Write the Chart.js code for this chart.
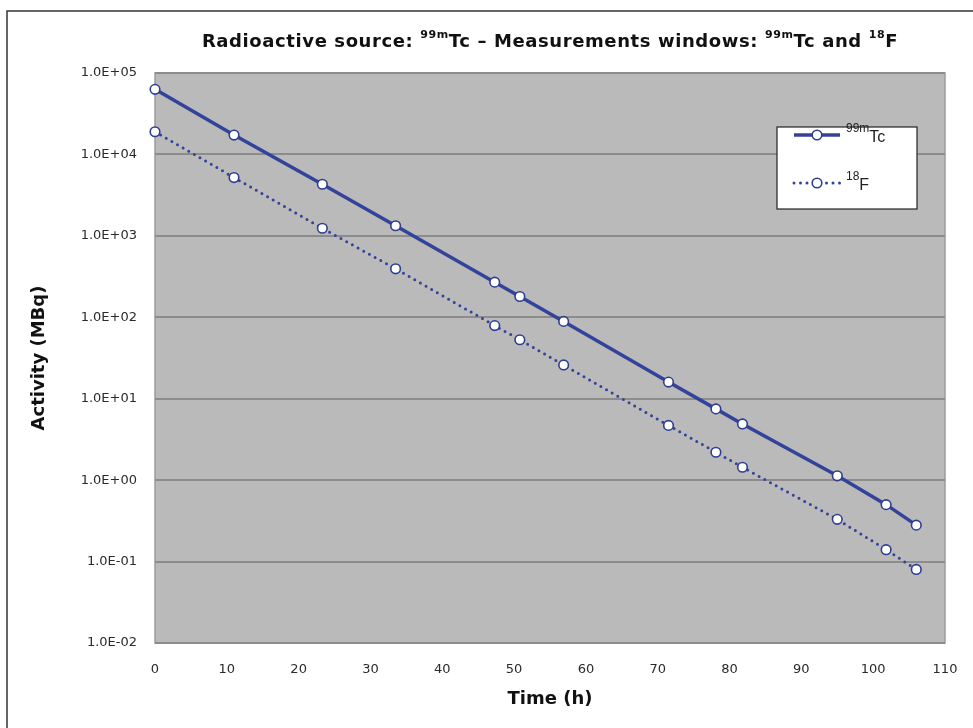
<!DOCTYPE html>
<html>
<head>
<meta charset="utf-8">
<script src="https://cdn.jsdelivr.net/npm/chart.js@4/dist/chart.umd.min.js"></script>
<style>
  html, body { margin: 0; padding: 0; background: #fff; }
  #wrap { width: 973px; height: 728px; }
</style>
</head>
<body>
<div id="wrap"><canvas id="myChart1" width="973" height="728"></canvas></div>
<script>
// measurement times (h), same for both windows
const times = [0, 11, 23.3, 33.5, 47.3, 50.8, 56.9, 71.5, 78.1, 81.8, 95, 101.8, 106];
// activity (MBq) read in the 99mTc window
const tcValues = [63000, 17300, 4300, 1330, 270, 180, 89, 16, 7.5, 4.9, 1.13, 0.5, 0.28];
// activity (MBq) read in the 18F window
const fValues = [19000, 5200, 1240, 394, 79, 53, 26, 4.7, 2.2, 1.44, 0.33, 0.14, 0.08];

const yTicks = [1e-2, 1e-1, 1e0, 1e1, 1e2, 1e3, 1e4, 1e5];
const yTickLabels = ["1.0E-02", "1.0E-01", "1.0E+00", "1.0E+01", "1.0E+02", "1.0E+03", "1.0E+04", "1.0E+05"];
const xTicks = [0, 10, 20, 30, 40, 50, 60, 70, 80, 90, 100, 110];

const blue = "#33439a";
const tickFont = { family: "'DejaVu Sans', sans-serif", size: 13 };
const titleFont = { family: "'DejaVu Sans', sans-serif", size: 18, weight: "bold" };

// title with superscripts: [text, isSup]
const titleParts = [
    ["Radioactive source: ", false], ["99m", true], ["Tc \u2013 Measurements windows: ", false],
    ["99m", true], ["Tc and ", false], ["18", true], ["F", false],
];

function drawParts(ctx, parts, x, y, font, supFont, rise) {
    let cx = x;
    parts.forEach(([t, sup]) => {
        ctx.font = sup ? supFont : font;
        ctx.fillText(t, cx, sup ? y - rise : y);
        cx += ctx.measureText(t).width;
    });
}
function partsWidth(ctx, parts, font, supFont) {
    let w = 0;
    parts.forEach(([t, sup]) => {
        ctx.font = sup ? supFont : font;
        w += ctx.measureText(t).width;
    });
    return w;
}

const decor = {
    id: "decor",
    beforeDraw(chart) {
        const { ctx, chartArea: a } = chart;
        ctx.save();
        ctx.fillStyle = "#fff";
        ctx.fillRect(0, 0, chart.width, chart.height);
        // outer frame (left and top visible)
        ctx.strokeStyle = "#333";
        ctx.lineWidth = 1.5;
        ctx.beginPath();
        ctx.moveTo(7, chart.height);
        ctx.lineTo(7, 11);
        ctx.lineTo(chart.width, 11);
        ctx.stroke();
        // plot area
        ctx.fillStyle = "#bababa";
        ctx.fillRect(a.left, a.top, a.right - a.left, a.bottom - a.top);
        ctx.strokeStyle = "#9c9c9c";
        ctx.lineWidth = 1.5;
        ctx.strokeRect(a.left, a.top, a.right - a.left, a.bottom - a.top);
        ctx.restore();
    },
    afterDraw(chart) {
        const { ctx, chartArea: a } = chart;
        ctx.save();
        // title
        ctx.fillStyle = "#111";
        ctx.textBaseline = "alphabetic";
        ctx.textAlign = "left";
        ctx.letterSpacing = "0.6px";
        const f = "bold 18px 'DejaVu Sans'";
        const sf = "bold 11px 'DejaVu Sans'";
        const w = partsWidth(ctx, titleParts, f, sf);
        drawParts(ctx, titleParts, (a.left + a.right) / 2 - w / 2, 47, f, sf, 9);
        ctx.letterSpacing = "0px";

        // legend box
        const bx = 777, by = 127, bw = 140, bh = 82;
        ctx.fillStyle = "#fff";
        ctx.fillRect(bx, by, bw, bh);
        ctx.strokeStyle = "#222";
        ctx.lineWidth = 1.2;
        ctx.strokeRect(bx, by, bw, bh);
        const rows = [
            { ds: chart.data.datasets[0], y: 135, parts: [["99m", true], ["Tc", false]] },
            { ds: chart.data.datasets[1], y: 183, parts: [["18", true], ["F", false]] },
        ];
        rows.forEach(r => {
            ctx.strokeStyle = r.ds.borderColor;
            ctx.lineWidth = r.ds.borderWidth;
            ctx.lineCap = r.ds.borderCapStyle || "butt";
            ctx.setLineDash(r.ds.borderDash || []);
            ctx.beginPath();
            ctx.moveTo(794, r.y);
            ctx.lineTo(840, r.y);
            ctx.stroke();
            ctx.setLineDash([]);
            ctx.beginPath();
            ctx.arc(817, r.y, r.ds.pointRadius, 0, Math.PI * 2);
            ctx.fillStyle = "#fff";
            ctx.fill();
            ctx.lineWidth = r.ds.pointBorderWidth;
            ctx.strokeStyle = r.ds.pointBorderColor;
            ctx.stroke();
            ctx.fillStyle = "#222";
            drawParts(ctx, r.parts, 846, r.y + 7, "16px 'Liberation Sans'", "12px 'Liberation Sans'", 10);
        });
        ctx.restore();
    },
};

const ctx = document.getElementById("myChart1").getContext("2d");
const myChart = new Chart(ctx, {
    type: "line",
    data: {
        datasets: [
            {
                label: "99mTc",
                data: times.map((t, i) => ({ x: t, y: tcValues[i] })),
                borderColor: blue,
                borderWidth: 3.5,
                pointRadius: 4.8,
                pointBorderWidth: 1.6,
                pointBorderColor: "#2e3d8f",
                pointBackgroundColor: "#fff",
                clip: false,
            },
            {
                label: "18F",
                data: times.map((t, i) => ({ x: t, y: fValues[i] })),
                borderColor: blue,
                borderWidth: 3,
                borderDash: [0, 6.5],
                borderCapStyle: "round",
                pointRadius: 4.8,
                pointBorderWidth: 1.6,
                pointBorderColor: "#2e3d8f",
                pointBackgroundColor: "#fff",
                clip: false,
            },
        ],
    },
    options: {
        responsive: false,
        animation: false,
        devicePixelRatio: 1,
        layout: { padding: { top: 73, left: 0, right: 28, bottom: 0 } },
        plugins: {
            legend: { display: false },
            title: { display: false },
            tooltip: { enabled: false },
        },
        scales: {
            x: {
                type: "linear",
                min: 0,
                max: 110,
                afterBuildTicks: (s) => { s.ticks = xTicks.map(v => ({ value: v })); },
                afterFit: (s) => { s.height = 85; },
                grid: { display: false },
                border: { display: false },
                ticks: { font: tickFont, color: "#2a2a2a", padding: 11, maxRotation: 0 },
                title: {
                    display: true,
                    text: "Time (h)",
                    font: titleFont,
                    color: "#111",
                    padding: { top: 0, bottom: 18 },
                },
            },
            y: {
                type: "logarithmic",
                min: 1e-2,
                max: 1e5,
                afterBuildTicks: (s) => { s.ticks = yTicks.map(v => ({ value: v })); },
                afterFit: (s) => { s.width = 155; },
                grid: { color: "#8c8c8c", lineWidth: 2, drawTicks: false },
                border: { display: false },
                ticks: {
                    font: tickFont,
                    color: "#2a2a2a",
                    padding: 18,
                    callback: (v) => {
                        const i = yTicks.findIndex(t => Math.abs(Math.log10(t) - Math.log10(v)) < 1e-6);
                        return i >= 0 ? yTickLabels[i] : "";
                    },
                },
                title: {
                    display: true,
                    text: "Activity (MBq)",
                    font: titleFont,
                    color: "#111",
                    padding: { top: 29, bottom: 0 },
                },
            },
        },
    },
    plugins: [decor],
});
</script>
</body>
</html>
